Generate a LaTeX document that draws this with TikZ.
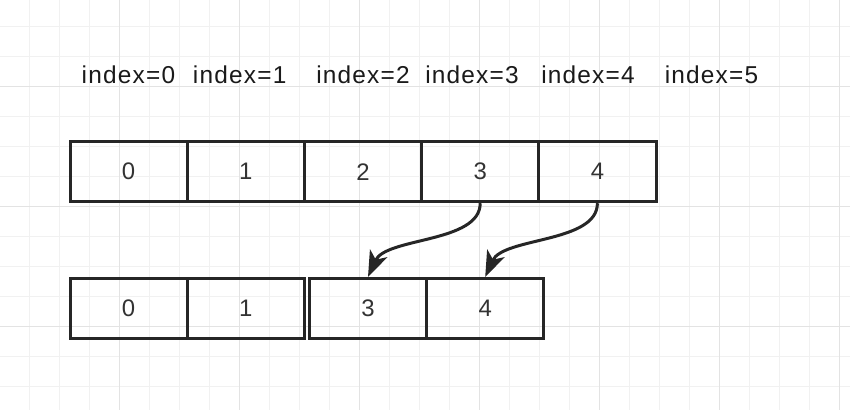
\documentclass[tikz,border=0pt]{standalone}
\usepackage{fontspec}
\setmainfont{Liberation Sans}
\newfontfamily\idxfont[LetterSpace=5]{Liberation Sans}
\usepackage{xcolor}
\usetikzlibrary{arrows.meta}

\definecolor{gridminor}{HTML}{F1F1F1}
\definecolor{gridmajor}{HTML}{E3E3E3}
\definecolor{boxline}{HTML}{262626}
\definecolor{cellnum}{HTML}{333333}
\definecolor{idxtext}{HTML}{1A1A1A}

\tikzset{
    cell/.style={draw=boxline, line width=3bp, minimum width=117.2bp, minimum height=60bp,
        inner sep=0pt, text=cellnum, font=\fontsize{24}{28}\selectfont},
    idx/.style={anchor=base, inner sep=0pt, text=idxtext, font=\idxfont\fontsize{24.5}{28}\selectfont},
    move/.style={draw=boxline, line width=3bp, -{Stealth[length=26bp, width=19bp, inset=7bp]}}
}

\begin{document}
\begin{tikzpicture}[x=1bp, y=-1bp]
    \useasboundingbox (0,0) rectangle (850,410);
    \fill[white] (0,0) rectangle (850,410);

    % Background grid
    \foreach \x in {30,60,...,840}
        \draw[gridminor, line width=1bp] (\x-0.7,0) -- (\x-0.7,410);
    \foreach \y in {30,60,...,390}
        \draw[gridminor, line width=1bp] (0,\y-3.3) -- (850,\y-3.3);
    \foreach \x in {120,240,...,840}
        \draw[gridmajor, line width=1bp] (\x-0.7,0) -- (\x-0.7,410);
    \foreach \y in {90,210,330}
        \draw[gridmajor, line width=1bp] (0,\y-3.3) -- (850,\y-3.3);

    % Index labels
    \foreach \i/\x in {0/128.5,1/239.7,2/363,3/472,4/588,5/711.5}
        \node[idx] (i\i) at (\x,83) {index=\i};

    % Original array
    \foreach \i in {0,...,4}
        \node[cell] (t\i) at ({128.6+117.2*\i},171.7) {\i};

    % Array after removing index 2
    \node[cell] (b0) at (128.6,308.5) {0};
    \node[cell] (b1) at (245.8,308.5) {1};
    \node[cell] (b3) at (368,308.5) {3};
    \node[cell] (b4) at (485.2,308.5) {4};

    % Shift elements left
    \draw[move] (t3.south) .. controls +(0,40) and +(18,-40) .. (b3.north);
    \draw[move] (t4.south) .. controls +(0,40) and +(18,-40) .. (b4.north);
\end{tikzpicture}
\end{document}
